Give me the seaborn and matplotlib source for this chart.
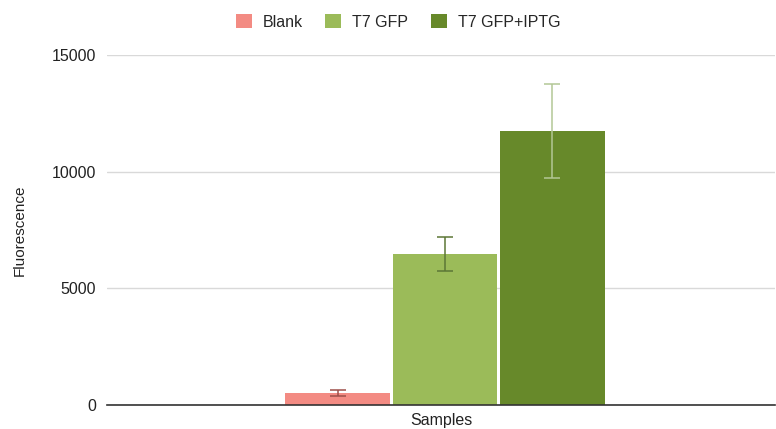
import pandas as pd
import seaborn as sns
import matplotlib.pyplot as plt
from matplotlib.patches import Patch

# Values
samples = ['Blank', 'T7 GFP', 'T7 GFP+IPTG']
fluorescence = [500, 6470, 11730]
errors = [130, 720, 2010]
bar_colors = ['#F38B83', '#9BBB59', '#67892A']
err_colors = ['#9E4F4A', '#5C7636', '#B3C796']

df = pd.DataFrame({'Samples': [''] * 3, 'Sample': samples, 'Fluorescence': fluorescence})

sns.set_style('white')
plt.rcParams['font.family'] = ['Liberation Sans', 'DejaVu Sans']

fig = plt.figure(figsize=(7.76, 4.29), dpi=100)
ax = fig.add_axes([107 / 776, 1 - 405 / 429, 668 / 776, 350 / 429])

sns.barplot(data=df, x='Samples', y='Fluorescence', hue='Sample', hue_order=samples,
            palette=bar_colors, width=0.482, gap=0.025, errorbar=None, ax=ax, legend=False,
            linewidth=0, saturation=1)

# Error bars, placed at the centre of each bar
for patch, val, err, col in zip(ax.patches, fluorescence, errors, err_colors):
    cx = patch.get_x() + patch.get_width() / 2
    ax.errorbar(cx, val, yerr=err, color=col, capsize=6, elinewidth=1.1, capthick=1.1, zorder=3)

ax.set_xlim(-0.506, 0.494)
ax.set_ylim(0, 15000)
ax.set_yticks([0, 5000, 10000, 15000])
ax.yaxis.grid(True, color='#d9d9d9', linewidth=1)
ax.set_axisbelow(True)
for side in ['left', 'right', 'top']:
    ax.spines[side].set_visible(False)
ax.spines['bottom'].set_color('#333333')
ax.spines['bottom'].set_linewidth(1.2)
ax.tick_params(axis='y', length=0, pad=8, labelsize=11.5, labelcolor='#222222')
ax.tick_params(axis='x', length=0)
ax.set_xticks([])
ax.set_xlabel('Samples', fontsize=11.5, color='#222222', labelpad=6)
ax.set_ylabel('Fluorescence', fontsize=11, color='#222222', labelpad=18)

handles = [Patch(facecolor=c, edgecolor='none', label=s) for s, c in zip(samples, bar_colors)]
fig.legend(handles=handles, loc='center', bbox_to_anchor=(0.513, 0.949), ncol=3, frameon=False,
           fontsize=11.5, handlelength=1.0, handleheight=1.0, handletextpad=0.7, columnspacing=1.4)

fig.savefig('out.png', dpi=100)
